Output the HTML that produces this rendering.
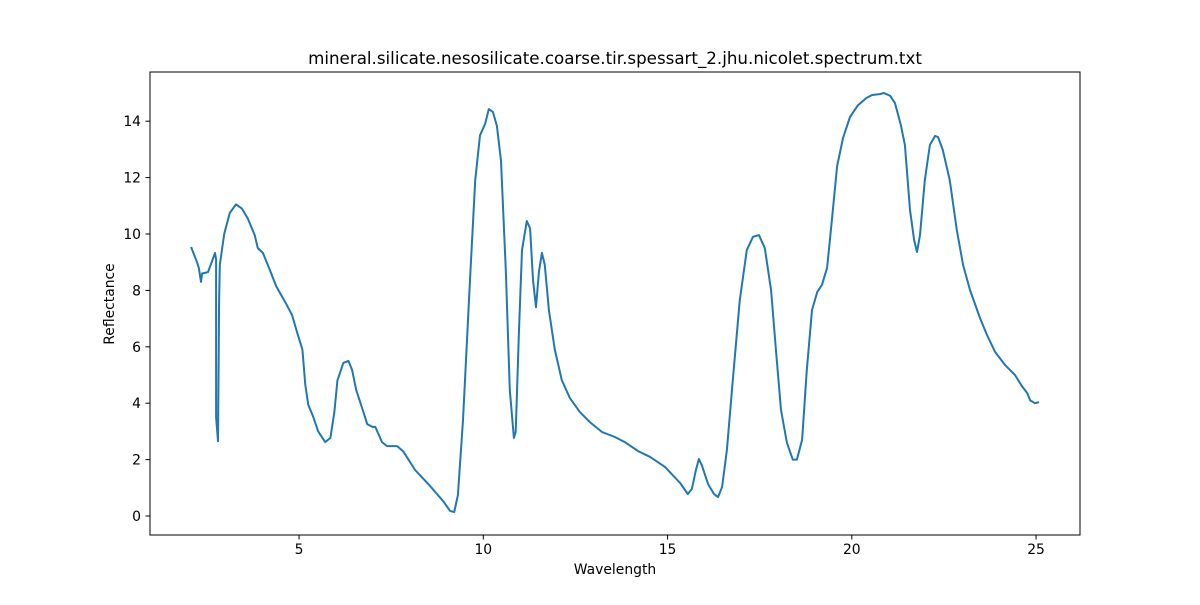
<!DOCTYPE html>
<html><head><meta charset="utf-8"><style>
body{margin:0;background:#fff;}
svg{font-family:"DejaVu Sans","Liberation Sans",sans-serif;}
</style></head><body>
<svg id="chart" width="1200" height="600">
<rect width="1200" height="600" fill="#fff"/>
<text x="615" y="64" text-anchor="middle" font-size="16.7">mineral.silicate.nesosilicate.coarse.tir.spessart_2.jhu.nicolet.spectrum.txt</text>
<g id="axes"></g>
<path id="line" fill="none" stroke="#1f77b4" stroke-width="2" stroke-linejoin="round"/>
<rect x="150" y="72" width="930" height="463" fill="none" stroke="#000" stroke-width="1"/>
<text x="615" y="574" text-anchor="middle" font-size="13.9">Wavelength</text>
<text transform="translate(114,304) rotate(-90)" text-anchor="middle" font-size="13.9">Reflectance</text>
</svg>
<script>
const wavelength=[2.07,2.23,2.28,2.34,2.37,2.53,2.67,2.72,2.75,2.75,2.80,2.83,2.85,2.97,3.12,3.29,3.45,3.61,3.80,3.88,4.02,4.21,4.38,4.62,4.81,4.95,5.09,5.17,5.25,5.39,5.52,5.71,5.85,5.96,6.04,6.20,6.34,6.44,6.55,6.71,6.85,6.99,7.07,7.25,7.39,7.66,7.82,8.15,8.56,8.91,9.10,9.21,9.31,9.45,9.64,9.78,9.91,10.05,10.15,10.26,10.37,10.48,10.61,10.72,10.83,10.88,10.97,11.05,11.18,11.27,11.35,11.43,11.51,11.59,11.67,11.78,11.94,12.13,12.35,12.62,12.89,13.22,13.57,13.84,14.20,14.52,14.93,15.34,15.55,15.66,15.77,15.85,15.93,16.10,16.26,16.37,16.48,16.61,16.77,16.96,17.15,17.32,17.48,17.64,17.81,17.94,18.08,18.24,18.40,18.51,18.65,18.78,18.92,19.06,19.19,19.33,19.46,19.60,19.76,19.95,20.17,20.39,20.55,20.76,20.87,21.04,21.17,21.33,21.44,21.58,21.69,21.77,21.85,21.98,22.12,22.26,22.34,22.47,22.66,22.85,23.02,23.21,23.48,23.67,23.89,24.16,24.43,24.62,24.76,24.84,24.97,25.08];
const reflectance=[9.54,9.0,8.8,8.3,8.6,8.65,9.15,9.33,9.1,3.5,2.65,7.6,8.9,10.0,10.75,11.05,10.9,10.55,9.95,9.5,9.33,8.72,8.15,7.6,7.13,6.5,5.9,4.65,3.94,3.5,3.0,2.62,2.77,3.7,4.8,5.43,5.5,5.18,4.47,3.83,3.26,3.16,3.16,2.62,2.48,2.48,2.3,1.63,1.06,0.53,0.18,0.14,0.74,3.4,8.37,11.9,13.5,13.9,14.43,14.33,13.83,12.6,8.72,4.47,2.77,2.98,6.6,9.43,10.46,10.2,8.37,7.4,8.65,9.33,8.9,7.3,5.9,4.82,4.18,3.69,3.33,2.98,2.8,2.62,2.3,2.1,1.74,1.17,0.78,0.96,1.63,2.02,1.8,1.13,0.78,0.67,1.03,2.34,4.82,7.66,9.43,9.9,9.96,9.5,8.0,5.9,3.76,2.6,2.0,2.0,2.7,5.18,7.3,7.94,8.2,8.8,10.5,12.4,13.4,14.15,14.57,14.82,14.93,14.96,15.0,14.9,14.65,13.87,13.16,10.85,9.79,9.36,9.96,11.9,13.16,13.48,13.44,12.98,11.9,10.14,8.9,8.0,7.02,6.42,5.82,5.35,5.0,4.6,4.36,4.1,4.0,4.04];
const xTicks=[5,10,15,20,25];
const yTicks=[0,2,4,6,8,10,12,14];
const xs=v=>114.8+36.85*v;
const ys=v=>516-28.2*v;
const ns="http://www.w3.org/2000/svg";
const axes=document.getElementById('axes');
function mk(t,a){const e=document.createElementNS(ns,t);for(const k in a)e.setAttribute(k,a[k]);return e;}
xTicks.forEach(t=>{
 const g=mk('g',{});
 
 
 g.appendChild(mk('line',{x1:xs(t),x2:xs(t),y1:535,y2:539.5,stroke:'#000'}));
 const tx=mk('text',{x:xs(t),y:554,'text-anchor':'middle','font-size':13.9});tx.textContent=t;g.appendChild(tx);
 axes.appendChild(g);
});
yTicks.forEach(t=>{
 const g=mk('g',{});
 
 
 g.appendChild(mk('line',{x1:145.5,x2:150,y1:ys(t),y2:ys(t),stroke:'#000'}));
 const tx=mk('text',{x:141,y:ys(t)+5,'text-anchor':'end','font-size':13.9});tx.textContent=t;g.appendChild(tx);
 axes.appendChild(g);
});
document.getElementById('line').setAttribute('d',wavelength.map((w,i)=>(i?'L':'M')+xs(w).toFixed(1)+','+ys(reflectance[i]).toFixed(1)).join(''));
</script>
</body></html>
